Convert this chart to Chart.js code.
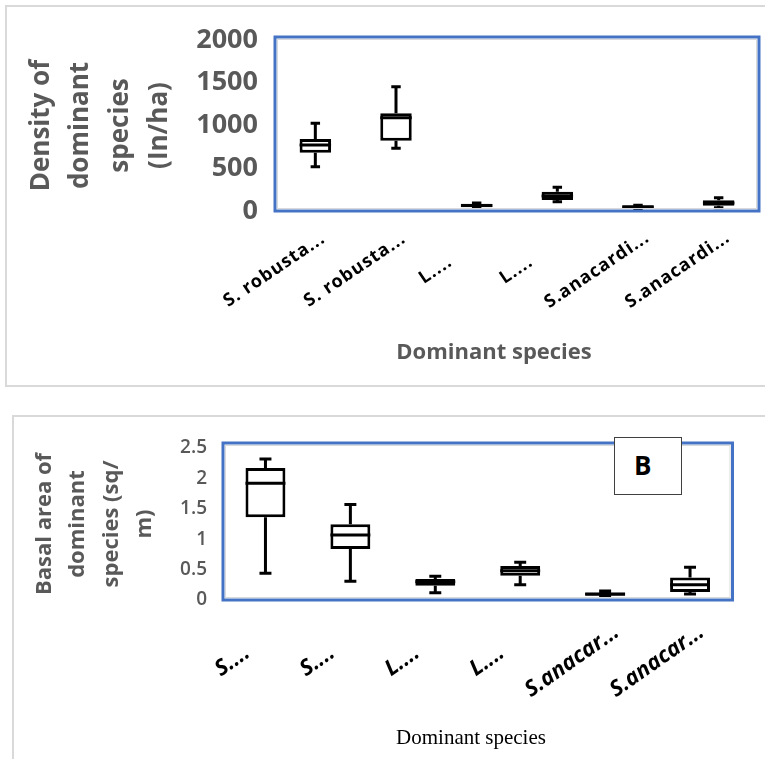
<!DOCTYPE html>
<html>
<head>
<meta charset="utf-8">
<script src="https://cdn.jsdelivr.net/npm/chart.js@4.4.1/dist/chart.umd.min.js"></script>
<style>
  html, body { margin: 0; padding: 0; background: #fff; }
  body { width: 765px; height: 759px; overflow: hidden; position: relative; }
  .panel { position: absolute; border: 2px solid #d9d9d9; box-sizing: border-box; }
  #panelA { left: 5px; top: 5px; width: 800px; height: 382px; }
  #panelB { left: 12px; top: 415px; width: 800px; height: 400px; }
  canvas { position: absolute; left: 0; }
  #chartA { top: 0; }
  #chartB { top: 400px; }
  #tagB {
    position: absolute; left: 614px; top: 437px; width: 68px; height: 58px;
    box-sizing: border-box; border: 1.5px solid #404040; background: #fff;
    font: bold 26px "Open Sans"; line-height: 55px; padding-left: 19px; color: #000;
  }
</style>
</head>
<body>
<div class="panel" id="panelA"></div>
<div class="panel" id="panelB"></div>
<canvas id="chartA" width="765" height="400"></canvas>
<canvas id="chartB" width="765" height="359"></canvas>
<div id="tagB">B</div>
<script>
// Density of dominant species (In/ha)
const densityLabels = ['S. robusta...', 'S. robusta...', 'L....', 'L....', 'S.anacardi...', 'S.anacardi...'];
const densityMin    = [518, 733, 40, 109, 30, 39];
const densityQ1     = [682, 823, 45, 129, 35, 62];
const densityMedian = [772, 1091, 65, 175, 50, 94];
const densityQ3     = [842, 1143, 85, 226, 60, 125];
const densityMax    = [1026, 1454, 95, 277, 68, 156];
const densityTicks  = [0, 500, 1000, 1500, 2000];

// Basal area of dominant species (sq/m)
const basalLabels = ['S....', 'S....', 'L....', 'L....', 'S.anacar...', 'S.anacar...'];
const basalMin    = [0.44, 0.31, 0.12, 0.25, 0.06, 0.10];
const basalQ1     = [1.36, 0.84, 0.235, 0.40, 0.07, 0.13];
const basalMedian = [1.92, 1.07, 0.30, 0.48, 0.10, 0.25];
const basalQ3     = [2.17, 1.245, 0.345, 0.56, 0.12, 0.37];
const basalMax    = [2.32, 1.57, 0.39, 0.62, 0.15, 0.54];
const basalTicks  = [0, 0.5, 1, 1.5, 2, 2.5];

const gray = '#595959';

// whiskers, caps and median line on top of the floating bars (q1..q3)
const whiskers = {
  id: 'whiskers',
  afterDatasetsDraw(chart, args, opts) {
    const ctx = chart.ctx;
    const y = chart.scales.y;
    const bars = chart.getDatasetMeta(0).data;
    ctx.save();
    ctx.strokeStyle = '#000';
    ctx.lineWidth = opts.width;
    bars.forEach((bar, i) => {
      const x = bar.x;
      const half = bar.width / 2;
      const cap = bar.width * 0.15;
      const hi = y.getPixelForValue(opts.max[i]);
      const lo = y.getPixelForValue(opts.min[i]);
      const med = y.getPixelForValue(opts.median[i]);
      ctx.beginPath();
      ctx.moveTo(x, y.getPixelForValue(opts.q3[i])); ctx.lineTo(x, hi);
      ctx.moveTo(x - cap, hi); ctx.lineTo(x + cap, hi);
      ctx.moveTo(x, y.getPixelForValue(opts.q1[i])); ctx.lineTo(x, lo);
      ctx.moveTo(x - cap, lo); ctx.lineTo(x + cap, lo);
      ctx.moveTo(x - half, med); ctx.lineTo(x + half, med);
      ctx.stroke();
    });
    ctx.restore();
  }
};

// blue plot-area frame
const plotFrame = {
  id: 'plotFrame',
  afterDraw(chart, args, opts) {
    const {ctx, chartArea: a} = chart;
    const top = a.top - opts.lift;
    ctx.save();
    ctx.strokeStyle = '#d9d9d9';
    ctx.lineWidth = 1;
    ctx.strokeRect(a.left + 2.5, top + 2.5, a.width - 5, a.bottom - top - 5);
    ctx.strokeStyle = '#4472c4';
    ctx.lineWidth = 3;
    ctx.strokeRect(a.left, top, a.width, a.bottom - top);
    ctx.restore();
  }
};

// slanted category labels, centred below-left of each tick like Excel does
const slantLabels = {
  id: 'slantLabels',
  afterDraw(chart, args, opts) {
    const {ctx, chartArea} = chart;
    const xs = chart.scales.x;
    ctx.save();
    ctx.font = opts.font;
    ctx.fillStyle = '#000';
    ctx.textAlign = 'center';
    ctx.textBaseline = 'middle';
    if ('letterSpacing' in ctx) ctx.letterSpacing = opts.spacing;
    chart.data.labels.forEach((label, i) => {
      ctx.save();
      ctx.translate(xs.getPixelForTick(i) + opts.dx, chartArea.bottom + opts.dy);
      ctx.rotate(-opts.angle * Math.PI / 180);
      ctx.fillText(label, 0, 0);
      ctx.restore();
    });
    ctx.restore();
  }
};

// x axis caption
const caption = {
  id: 'caption',
  afterDraw(chart, args, opts) {
    const ctx = chart.ctx;
    ctx.save();
    ctx.font = opts.font;
    ctx.fillStyle = opts.color;
    ctx.textAlign = 'center';
    ctx.textBaseline = 'middle';
    ctx.fillText(opts.text, opts.x, opts.y);
    ctx.restore();
  }
};

new Chart(document.getElementById('chartA'), {
  type: 'bar',
  data: {
    labels: densityLabels,
    datasets: [{
      data: densityLabels.map((_, i) => [densityQ1[i], densityQ3[i]]),
      backgroundColor: '#fff',
      borderColor: '#000',
      borderWidth: 3,
      borderSkipped: false,
      barPercentage: 0.39,
      categoryPercentage: 1
    }]
  },
  options: {
    responsive: false,
    animation: false,
    layout: { padding: { top: 40, right: 6, left: 0, bottom: 0 } },
    plugins: {
      legend: { display: false },
      tooltip: { enabled: false },
      whiskers: { width: 3, min: densityMin, q1: densityQ1, median: densityMedian, q3: densityQ3, max: densityMax },
      plotFrame: { lift: 3 },
      slantLabels: { angle: 34, dx: -41, dy: 59, spacing: '1px', font: 'bold 18px "Open Sans"' },
      caption: { text: 'Dominant species', x: 494, y: 353, color: gray, font: 'bold 22px "Open Sans"' }
    },
    scales: {
      x: {
        grid: { display: false, drawTicks: false },
        border: { display: false },
        ticks: { display: false },
        afterFit(scale) { scale.height = 189; }
      },
      y: {
        min: 0, max: 2000,
        grid: { display: false, drawTicks: false },
        border: { display: false },
        afterBuildTicks(scale) { scale.ticks = densityTicks.map(v => ({ value: v })); },
        ticks: {
          padding: 17, color: gray,
          font: { family: 'Open Sans', weight: 'bold', size: 27 },
          callback: v => String(v)
        },
        title: {
          display: true,
          text: ['Density of', 'dominant', 'species', '(In/ha)'],
          color: gray,
          padding: { top: 22, bottom: 0 },
          font: { family: 'Open Sans', weight: 'bold', size: 26, lineHeight: 1.515 }
        },
        afterFit(scale) { scale.width = 275; }
      }
    }
  },
  plugins: [whiskers, plotFrame, slantLabels, caption]
});

new Chart(document.getElementById('chartB'), {
  type: 'bar',
  data: {
    labels: basalLabels,
    datasets: [{
      data: basalLabels.map((_, i) => [basalQ1[i], basalQ3[i]]),
      backgroundColor: '#fff',
      borderColor: '#000',
      borderWidth: 3,
      borderSkipped: false,
      barPercentage: 0.47,
      categoryPercentage: 1
    }]
  },
  options: {
    responsive: false,
    animation: false,
    layout: { padding: { top: 48, right: 32.5, left: 0, bottom: 0 } },
    plugins: {
      legend: { display: false },
      tooltip: { enabled: false },
      whiskers: { width: 3, min: basalMin, q1: basalQ1, median: basalMedian, q3: basalQ3, max: basalMax },
      plotFrame: { lift: 5 },
      slantLabels: { angle: 35, dx: -33, dy: 61, spacing: '0px', font: 'italic bold 22px "Open Sans"' },
      caption: { text: 'Dominant species', x: 471, y: 338, color: '#000', font: '21px "Liberation Serif"' }
    },
    scales: {
      x: {
        grid: { display: false, drawTicks: false },
        border: { display: false },
        ticks: { display: false },
        afterFit(scale) { scale.height = 159; }
      },
      y: {
        min: 0, max: 2.5,
        grid: { display: false, drawTicks: false },
        border: { display: false },
        afterBuildTicks(scale) { scale.ticks = basalTicks.map(v => ({ value: v })); },
        ticks: {
          padding: 16, color: gray,
          font: { family: 'Open Sans', weight: '600', size: 19 },
          callback: v => String(v)
        },
        title: {
          display: true,
          text: ['Basal area of', 'dominant', 'species (sq/', 'm)'],
          color: gray,
          padding: { top: 28, bottom: 0 },
          font: { family: 'Open Sans', weight: 'bold', size: 22, lineHeight: 1.515 }
        },
        afterFit(scale) { scale.width = 223; }
      }
    }
  },
  plugins: [whiskers, plotFrame, slantLabels, caption]
});
</script>
</body>
</html>
